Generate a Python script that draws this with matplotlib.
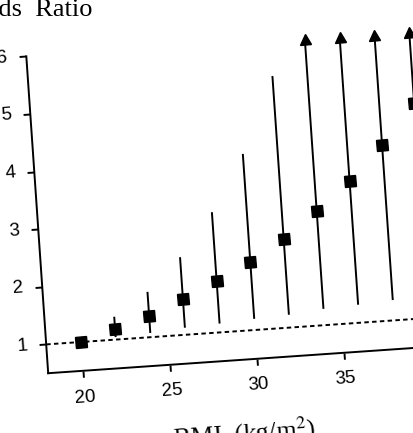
import matplotlib
matplotlib.use("Agg")
import matplotlib.pyplot as plt
from matplotlib.transforms import Affine2D
from matplotlib.markers import MarkerStyle
import mpl_toolkits.axisartist.floating_axes as floating_axes
from mpl_toolkits.axisartist.grid_finder import FixedLocator, DictFormatter

# odds ratio by BMI group
bmi = [20, 22, 24, 26, 28, 30, 32, 34, 36, 38, 40]
odds = [1.00, 1.18, 1.37, 1.62, 1.89, 2.18, 2.54, 2.98, 3.46, 4.05, 4.74]
ci_low = [1.00, 1.06, 1.09, 1.14, 1.17, 1.21, 1.24, 1.30, 1.33, 1.37, 1.41]
ci_high = [1.00, 1.38, 1.77, 2.33, 3.07, 4.04, 5.35, None, None, None, None]  # None = off scale

x_ticks = [20, 25, 30, 35, 40]
y_ticks = [1, 2, 3, 4, 5, 6]
x_lim = (18, 40)
y_lim = (0.5, 6)

W, H = 413, 433
tilt = 3.95              # the scan is a bit rotated
px_x, px_y = 17.44, 57.74  # pixels per data unit
tr = Affine2D().scale(px_x, px_y).rotate_deg(tilt)

grid_helper = floating_axes.GridHelperCurveLinear(
    tr, extremes=(x_lim[0], x_lim[1], y_lim[0], y_lim[1]),
    grid_locator1=FixedLocator(x_ticks),
    grid_locator2=FixedLocator(y_ticks),
    tick_formatter1=DictFormatter({v: str(v) for v in x_ticks}),
    tick_formatter2=DictFormatter({v: str(v) for v in y_ticks}))

# place the axes box so that (20, 1) ends up where it is in the scan
corners = tr.transform([(x_lim[0], y_lim[0]), (x_lim[1], y_lim[0]),
                        (x_lim[1], y_lim[1]), (x_lim[0], y_lim[1])])
bx0, by0 = corners.min(axis=0)
bx1, by1 = corners.max(axis=0)
cx, cy = (bx0 + bx1) / 2, (by0 + by1) / 2
bw, bh = (bx1 - bx0) * 1.02, (by1 - by0) * 1.02
ref = tr.transform((20, 1))
target = (81, H - 342)
left = target[0] - (ref[0] - (cx - bw / 2))
bottom = target[1] - (ref[1] - (cy - bh / 2))

plt.rcParams['mathtext.fontset'] = 'stix'
fig = plt.figure(figsize=(W / 100, H / 100), dpi=100)
ax = fig.add_axes([left / W, bottom / H, bw / W, bh / H],
                  axes_class=floating_axes.FloatingAxes, grid_helper=grid_helper)

for side in ("top", "right"):
    ax.axis[side].set_visible(False)
for side, size in (("left", 5), ("bottom", 4.5)):
    a = ax.axis[side]
    a.line.set_linewidth(1.4)
    a.major_ticks.set_tick_out(True)
    a.major_ticks.set_ticksize(size)
    a.major_ticks.set_markeredgewidth(1.4)
    a.major_ticklabels.set_fontsize(13.5)
    a.major_ticklabels.set_fontfamily("Liberation Sans")
ax.axis["left"].major_ticklabels.set_pad(8.5)
ax.axis["bottom"].major_ticklabels.set_pad(8.5)

ax.axis["bottom"].label.set_text("BMI  (kg/m$^2$)")
ax.axis["bottom"].label.set_fontsize(18.5)
ax.axis["bottom"].label.set_fontfamily("Liberation Serif")
ax.axis["bottom"].label.set_pad(20)

aux = ax.get_aux_axes(tr)
aux.patch = ax.patch
ax.patch.zorder = 0.9

square = MarkerStyle('s', transform=Affine2D().rotate_deg(tilt))
arrow = MarkerStyle('^', transform=Affine2D().rotate_deg(tilt))

# reference line at OR = 1
aux.plot(x_lim, [1, 1], color='black', lw=1.4, linestyle=(0, (2.3, 1.7)), clip_on=False)

for x, y, lo, hi in zip(bmi, odds, ci_low, ci_high):
    if hi is None:
        aux.plot([x, x], [lo, y_lim[1] - 0.1], color='black', lw=1.4, clip_on=False)
        aux.plot([x], [y_lim[1] - 0.04], marker=arrow, markersize=7.5,
                 color='black', clip_on=False)
    elif hi > lo:
        aux.plot([x, x], [lo, hi], color='black', lw=1.4, clip_on=False)

aux.plot(bmi, odds, linestyle='none', marker=square, markersize=8.5,
         color='black', clip_on=False, zorder=3)

fig.text(93 / W, 1 - 16 / H, "Odds  Ratio", ha='right', va='baseline',
         fontsize=19, family="Liberation Serif")

fig.savefig("out.png", dpi=100)
